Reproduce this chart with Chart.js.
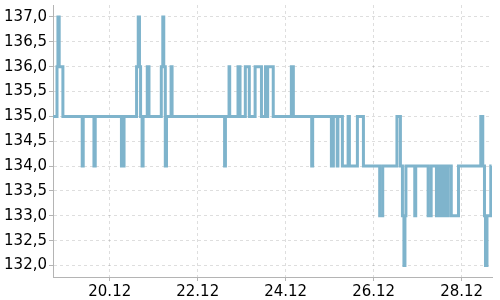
<!DOCTYPE html>
<html>
<head>
<meta charset="utf-8">
<script src="https://cdn.jsdelivr.net/npm/chart.js@4/dist/chart.umd.min.js"></script>
<style>
  body { margin: 0; background: #fff; }
</style>
</head>
<body>
<canvas id="myChart" width="500" height="300"></canvas>
<script>
// change points: day of December (decimal) and the price from that moment on
const dayPos = [
  18.715, 18.801, 18.822, 18.851, 18.935, 19.374, 19.397, 19.641, 19.670, 20.266,
  20.325, 20.610, 20.648, 20.676, 20.701, 20.735, 20.758, 20.853, 20.892, 21.172,
  21.206, 21.228, 21.263, 21.290, 21.394, 21.417, 22.611, 22.630, 22.712, 22.727,
  22.916, 22.962, 23.082, 23.173, 23.305, 23.449, 23.540, 23.576, 23.590, 23.717,
  24.129, 24.174, 24.591, 24.613, 25.039, 25.084, 25.171, 25.187, 25.289, 25.419,
  25.448, 25.630, 25.767, 26.137, 26.206, 26.529, 26.608, 26.654, 26.688, 26.711,
  26.733, 26.934, 26.956, 27.238, 27.307, 27.427, 27.495, 27.541, 27.598, 27.643,
  27.693, 27.764, 27.928, 28.435, 28.480, 28.519, 28.542, 28.576, 28.662, 28.681
];
const price = [
  135, 136, 137, 136, 135, 134, 135, 134, 135, 134,
  135, 136, 137, 136, 135, 134, 135, 136, 135, 136,
  137, 136, 134, 135, 136, 135, 134, 135, 136, 135,
  136, 135, 136, 135, 136, 135, 136, 135, 136, 135,
  136, 135, 134, 135, 134, 135, 134, 135, 134, 135,
  134, 135, 134, 133, 134, 135, 134, 133, 132, 133,
  134, 133, 134, 133, 134, 133, 134, 133, 134, 133,
  134, 133, 134, 135, 134, 133, 132, 133, 134, 134
];
const xTickDays = [20, 22, 24, 26, 28];
const yTickValues = [132, 132.5, 133, 133.5, 134, 134.5, 135, 135.5, 136, 136.5, 137];

const points = dayPos.map((d, i) => ({x: d, y: price[i]}));

const tickFont = {family: "'DejaVu Sans', sans-serif", size: 15};
const gridColor = 'rgba(0,0,0,0.13)';
const axisColor = '#b4b4b4';

var ctx = document.getElementById('myChart').getContext('2d');
var myChart = new Chart(ctx, {
  type: 'line',
  data: {
    datasets: [{
      data: points,
      stepped: true,
      borderColor: '#7fb4cc',
      borderWidth: 3,
      pointRadius: 0,
      fill: false
    }]
  },
  options: {
    responsive: false,
    animation: false,
    layout: {padding: {top: 5, right: 8, left: 0, bottom: 0}},
    plugins: {legend: {display: false}, tooltip: {enabled: false}},
    scales: {
      x: {
        type: 'linear',
        min: 18.71,
        max: 28.69,
        afterBuildTicks: (scale) => { scale.ticks = xTickDays.map(v => ({value: v})); },
        afterFit: (scale) => {
          scale.height = 23;
          scale.paddingLeft = 0;
          scale.paddingRight = 0;
        },
        ticks: {
          font: tickFont,
          color: '#000',
          padding: 2,
          maxRotation: 0,
          autoSkip: false,
          callback: (v) => v + '.12'
        },
        grid: {color: gridColor, tickColor: axisColor, tickLength: 4},
        border: {color: axisColor, dash: [3, 3]}
      },
      y: {
        min: 131.77,
        max: 137.24,
        afterBuildTicks: (scale) => { scale.ticks = yTickValues.map(v => ({value: v})); },
        afterFit: (scale) => {
          scale.width = 53;
          scale.paddingTop = 0;
          scale.paddingBottom = 0;
        },
        ticks: {
          font: tickFont,
          color: '#000',
          padding: 2,
          autoSkip: false,
          callback: (v) => v.toFixed(1).replace('.', ',')
        },
        grid: {color: gridColor, tickColor: axisColor, tickLength: 4},
        border: {color: axisColor, dash: [3, 3]}
      }
    }
  }
});
</script>
</body>
</html>
